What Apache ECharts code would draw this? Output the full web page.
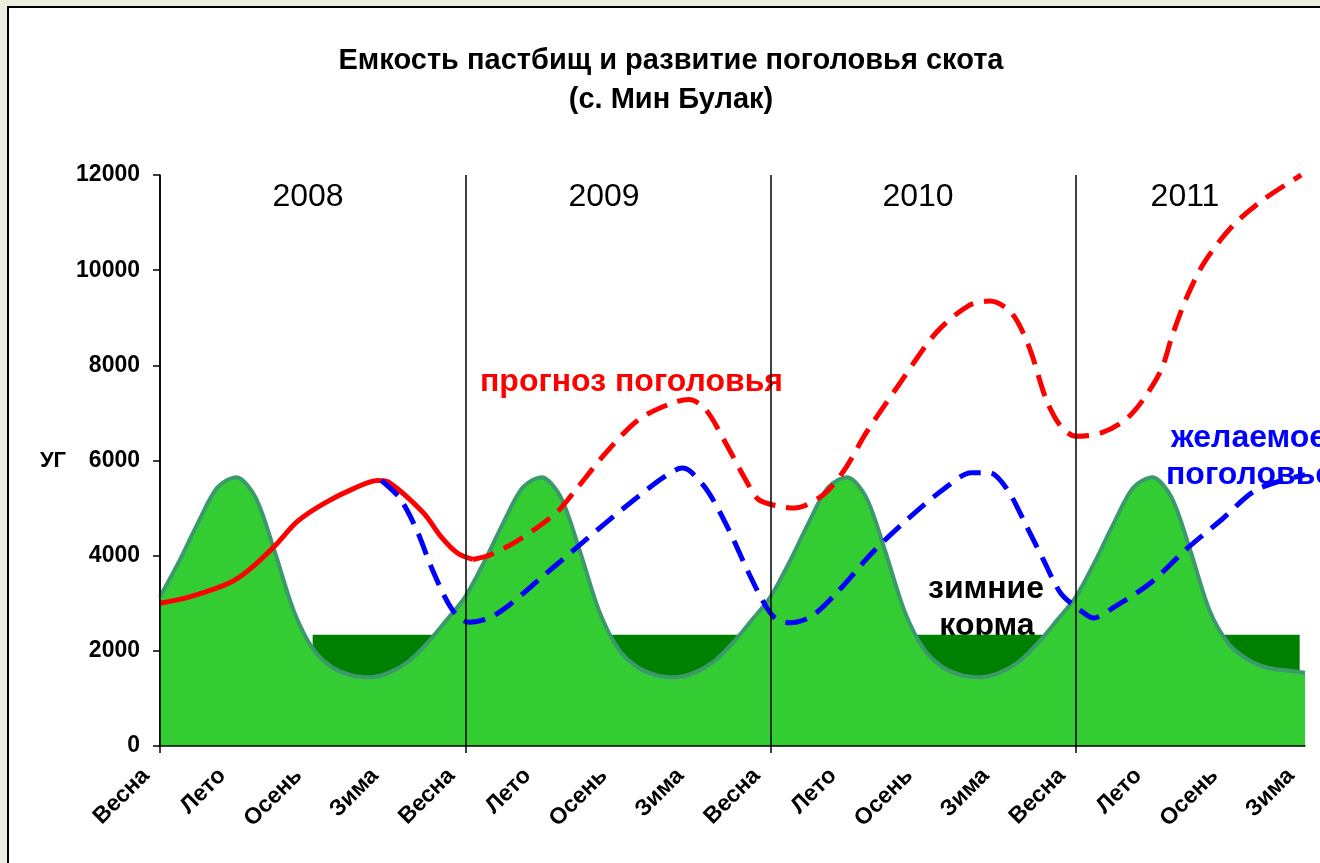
<!DOCTYPE html>
<html>
<head>
<meta charset="utf-8">
<title>Емкость пастбищ</title>
<script src="https://cdn.jsdelivr.net/npm/echarts@6/dist/echarts.min.js"></script>
<style>
  html, body { margin: 0; padding: 0; }
  body { width: 1320px; height: 863px; overflow: hidden; background: #ECEFDF; position: relative; }
  #frame { position: absolute; left: 7px; top: 6px; width: 1330px; height: 880px; background: #fff; border: 2px solid #000; }
  #chart { position: absolute; left: 0; top: 0; width: 1320px; height: 863px; }
</style>
</head>
<body>
<div id="frame"></div>
<div id="chart"></div>
<script>
// season labels along the bottom axis, 4 years
const seasons = ['Весна', 'Лето', 'Осень', 'Зима', 'Весна', 'Лето', 'Осень', 'Зима',
    'Весна', 'Лето', 'Осень', 'Зима', 'Весна', 'Лето', 'Осень', 'Зима'];
const years = ['2008', '2009', '2010', '2011'];
const yearStarts = [0, 4, 8, 12];

// емкость (pasture capacity), x = season index
const capacity = [
    [0, 3140], [0.25, 3880], [0.5, 4700], [0.75, 5430], [1, 5650], [1.25, 5230], [1.5, 4100], [1.75, 2850],
    [2, 2050], [2.25, 1660], [2.5, 1490], [2.75, 1445], [3, 1540], [3.25, 1770], [3.5, 2160], [3.75, 2640],
    [4, 3140], [4.25, 3880], [4.5, 4700], [4.75, 5430], [5, 5650], [5.25, 5230], [5.5, 4100], [5.75, 2850],
    [6, 2050], [6.25, 1660], [6.5, 1490], [6.75, 1445], [7, 1540], [7.25, 1770], [7.5, 2160], [7.75, 2640],
    [8, 3140], [8.25, 3880], [8.5, 4700], [8.75, 5430], [9, 5650], [9.25, 5230], [9.5, 4100], [9.75, 2850],
    [10, 2050], [10.25, 1660], [10.5, 1490], [10.75, 1445], [11, 1540], [11.25, 1770], [11.5, 2160], [11.75, 2640],
    [12, 3140], [12.25, 3880], [12.5, 4700], [12.75, 5430], [13, 5650], [13.25, 5230], [13.5, 4100], [13.75, 2850],
    [14, 2150], [14.25, 1820], [14.5, 1650], [14.75, 1590], [15, 1540]
];

// зимние корма
const winterFeed = [[2, 2340], [14.93, 2340]];

// прогноз поголовья: solid part, then dashed forecast
const forecastSolid = [
    [0, 3000], [0.4, 3140], [0.9, 3420], [1.15, 3680], [1.5, 4200], [1.8, 4720], [2.15, 5100],
    [2.55, 5420], [2.85, 5580], [3, 5540], [3.45, 4900], [3.68, 4400], [3.9, 4050], [4.1, 3920]
];
const forecastDashed = [
    [4.1, 3920], [4.33, 4020], [4.71, 4340], [5.19, 4900], [5.45, 5390], [5.84, 6160], [6.27, 6860],
    [6.71, 7210], [6.93, 7280], [7.15, 7070], [7.41, 6370], [7.67, 5600], [7.84, 5180], [8.1, 5040],
    [8.31, 5000], [8.69, 5280], [8.97, 5810], [9.25, 6580], [9.7, 7640], [10.17, 8690], [10.59, 9250],
    [10.87, 9350], [11.15, 9110], [11.38, 8410], [11.61, 7280], [11.8, 6720], [12, 6510], [12.33, 6580],
    [12.65, 6860], [12.88, 7280], [13.12, 7920], [13.26, 8620], [13.44, 9390], [13.68, 10160],
    [14.05, 10930], [14.47, 11500], [14.95, 12000]
];

// желаемое поголовье
const desired = [
    [2.9, 5580], [3.14, 5210], [3.36, 4550], [3.57, 3700], [3.83, 2860], [4.05, 2600], [4.31, 2690],
    [4.58, 2970], [5.01, 3560], [5.4, 4090], [5.84, 4690], [6.27, 5250], [6.62, 5670], [6.84, 5840],
    [6.97, 5740], [7.19, 5320], [7.45, 4550], [7.67, 3780], [7.89, 3070], [8.05, 2700], [8.25, 2590],
    [8.53, 2720], [8.86, 3210], [9.33, 4060], [9.79, 4760], [10.26, 5390], [10.63, 5740], [10.87, 5740],
    [11.1, 5390], [11.33, 4690], [11.57, 3920], [11.8, 3210], [12.05, 2860], [12.23, 2690], [12.51, 2930],
    [12.98, 3430], [13.44, 4130], [13.91, 4760], [14.37, 5390], [15, 5700]
];

const font = '"Liberation Sans", Arial, sans-serif';
const chart = echarts.init(document.getElementById('chart'));

// only year boundaries get a tick and a vertical line
function atYearStart(index) {
    return yearStarts.indexOf(index) >= 0;
}

const yearCenters = [308, 604, 918, 1185];
const graphics = years.map(function (y, i) {
    return {
        type: 'text', x: yearCenters[i], y: 197,
        style: { text: y, font: '32px ' + font, fill: '#000', align: 'center', verticalAlign: 'middle' }
    };
});
function label(text, x, y, color, align) {
    return {
        type: 'text', x: x, y: y,
        style: { text: text, font: 'bold 32px ' + font, fill: color, align: align || 'left', verticalAlign: 'middle' }
    };
}
graphics.push(label('прогноз поголовья', 480, 382, '#FF0000'));
graphics.push(label('желаемое', 1171, 438, '#0000FF'));
graphics.push(label('поголовье', 1166, 475, '#0000FF'));
graphics.push(label('зимние', 986, 589, '#000', 'center'));
graphics.push(label('корма', 987, 626, '#000', 'center'));
graphics.push(label('емкость', 1182, 703, '#000', 'center'));
graphics.push({
    type: 'text', x: 53, y: 461,
    style: { text: 'УГ', font: 'bold 22px ' + font, fill: '#000', align: 'center', verticalAlign: 'middle' }
});

chart.setOption({
    animation: false,
    backgroundColor: 'transparent',
    title: {
        text: 'Емкость пастбищ и развитие поголовья скота\n(с. Мин Булак)',
        left: 671, top: 41, textAlign: 'center', padding: 0,
        textStyle: { fontFamily: font, fontSize: 29, fontWeight: 'bold', color: '#000', lineHeight: 39 }
    },
    grid: { left: 160, right: 15, top: 175, bottom: 117 },
    xAxis: [{
        type: 'category',
        data: seasons,
        boundaryGap: false,
        z: 10,
        axisLine: { lineStyle: { color: '#000', width: 1.5 } },
        axisTick: { interval: atYearStart, length: 7, lineStyle: { color: '#000', width: 1.5 } },
        axisLabel: {
            interval: 0, rotate: 45, margin: 12, color: '#000', padding: [0, 20, 0, 0],
            fontFamily: font, fontSize: 23, fontWeight: 'bold'
        },
        splitLine: { show: true, interval: atYearStart, lineStyle: { color: '#000', width: 1.5 } }
    }, {
        type: 'value', min: 0, max: 15, show: false
    }],
    yAxis: {
        type: 'value', min: 0, max: 12000, interval: 2000,
        axisLine: { show: true, lineStyle: { color: '#000', width: 1.5 } },
        axisTick: { show: true, length: 7, lineStyle: { color: '#000', width: 1.5 } },
        axisLabel: {
            margin: 20, color: '#000', fontFamily: font, fontSize: 23, fontWeight: 'bold',
            formatter: function (v) { return String(v); }
        },
        splitLine: { show: false }
    },
    series: [{
        name: 'зимние корма', type: 'line', xAxisIndex: 1, data: winterFeed,
        symbol: 'none', z: 1,
        lineStyle: { width: 0 },
        areaStyle: { color: '#008000', opacity: 1 }
    }, {
        name: 'емкость', type: 'line', xAxisIndex: 1, data: capacity,
        symbol: 'none', smooth: 0.3, z: 2,
        lineStyle: { color: '#3A9A6B', width: 4 },
        areaStyle: { color: '#33CC33', opacity: 1 }
    }, {
        name: 'прогноз', type: 'line', xAxisIndex: 1, data: forecastSolid,
        symbol: 'none', smooth: 0.3, z: 3,
        lineStyle: { color: '#FF0000', width: 5 }
    }, {
        name: 'прогноз поголовья', type: 'line', xAxisIndex: 1, data: forecastDashed,
        symbol: 'none', smooth: 0.3, z: 3,
        lineStyle: { color: '#FF0000', width: 5, type: [22, 11] }
    }, {
        name: 'желаемое поголовье', type: 'line', xAxisIndex: 1, data: desired,
        symbol: 'none', smooth: 0.3, z: 4,
        lineStyle: { color: '#0000FF', width: 5, type: [22, 11] }
    }],
    graphic: graphics
});
</script>
</body>
</html>
